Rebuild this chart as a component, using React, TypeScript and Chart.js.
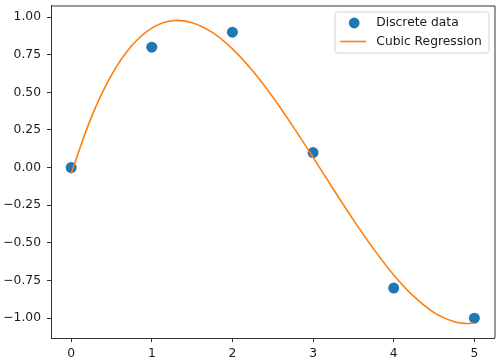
import React, { useEffect, useRef } from "react";
import { Chart, registerables } from "chart.js";

Chart.register(...registerables);

const discreteX = [0, 1, 2, 3, 4, 5];
const discreteY = [0, 0.8, 0.9, 0.1, -0.8, -1.0];

const curveX = [0, 0.25, 0.5, 0.75, 1, 1.25, 1.5, 1.75, 2, 2.25, 2.5, 2.75, 3, 3.25, 3.5, 3.75, 4, 4.25, 4.5, 4.75, 4.9, 5];
const curveY = [-0.040, 0.334, 0.614, 0.809, 0.927, 0.976, 0.963, 0.898, 0.789, 0.643, 0.469, 0.274, 0.068, -0.142, -0.347, -0.540, -0.713, -0.856, -0.963, -1.024, -1.0355, -1.032];

const xTicks = [0, 1, 2, 3, 4, 5];
const yTicks = [-1.0, -0.75, -0.5, -0.25, 0, 0.25, 0.5, 0.75, 1.0];

const legendLabels = ["Discrete data", "Cubic Regression"];
const BLUE = "#1f77b4";
const ORANGE = "#ff7f0e";
const FONT = "'DejaVu Sans', sans-serif";
const FS = 12.3;

const insideLegend = {
  id: "insideLegend",
  afterDraw(chart: any) {
    const ctx = chart.ctx;
    const area = chart.chartArea;
    const w = 154;
    const h = 41;
    const x0 = area.right - 5.5 - w;
    const y0 = area.top + 6.5;
    ctx.save();
    ctx.beginPath();
    const r = 2.5;
    ctx.moveTo(x0 + r, y0);
    ctx.lineTo(x0 + w - r, y0);
    ctx.quadraticCurveTo(x0 + w, y0, x0 + w, y0 + r);
    ctx.lineTo(x0 + w, y0 + h - r);
    ctx.quadraticCurveTo(x0 + w, y0 + h, x0 + w - r, y0 + h);
    ctx.lineTo(x0 + r, y0 + h);
    ctx.quadraticCurveTo(x0, y0 + h, x0, y0 + h - r);
    ctx.lineTo(x0, y0 + r);
    ctx.quadraticCurveTo(x0, y0, x0 + r, y0);
    ctx.closePath();
    ctx.fillStyle = "rgba(255,255,255,0.8)";
    ctx.fill();
    ctx.strokeStyle = "#d4d4d4";
    ctx.lineWidth = 1;
    ctx.stroke();

    const row1 = y0 + 11;
    const row2 = y0 + 29.5;
    ctx.fillStyle = BLUE;
    ctx.beginPath();
    ctx.arc(x0 + 19.2, row1, 5.4, 0, Math.PI * 2);
    ctx.fill();
    ctx.strokeStyle = ORANGE;
    ctx.lineWidth = 1.6;
    ctx.beginPath();
    ctx.moveTo(x0 + 5.2, row2);
    ctx.lineTo(x0 + 31.2, row2);
    ctx.stroke();

    ctx.fillStyle = "#1a1a1a";
    ctx.font = FS + "px " + FONT;
    ctx.textAlign = "left";
    ctx.textBaseline = "middle";
    ctx.fillText(legendLabels[0], x0 + 41.3, row1);
    ctx.fillText(legendLabels[1], x0 + 41.3, row2);
    ctx.restore();
  },
};

export default function App() {
  const ref = useRef<HTMLCanvasElement | null>(null);
  useEffect(() => {
    document.body.style.margin = "0";
    const canvas = ref.current!;
    const chart = new Chart(canvas, {
      type: "scatter",
      data: {
        datasets: [
          {
            type: "line",
            label: legendLabels[1],
            data: curveX.map((x, i) => ({ x, y: curveY[i] })),
            borderColor: ORANGE,
            borderWidth: 1.6,
            pointRadius: 0,
            fill: false,
            tension: 0.4,
            order: 0,
          } as any,
          {
            type: "scatter",
            label: legendLabels[0],
            data: discreteX.map((x, i) => ({ x, y: discreteY[i] })),
            backgroundColor: BLUE,
            borderColor: BLUE,
            borderWidth: 0,
            pointRadius: 5.5,
            order: 1,
          } as any,
        ],
      },
      options: {
        animation: false,
        responsive: false,
        maintainAspectRatio: false,
        layout: { padding: { top: 5, right: 4, left: 0, bottom: 0 } },
        plugins: {
          legend: { display: false },
          tooltip: { enabled: false },
        },
        scales: {
          x: {
            type: "linear",
            min: -0.25,
            max: 5.25,
            afterBuildTicks: (scale: any) => {
              scale.ticks = xTicks.map((v) => ({ value: v }));
            },
            afterFit: (scale: any) => {
              scale.height = 26;
              scale.paddingLeft = 0;
              scale.paddingRight = 0;
            },
            ticks: {
              color: "#1a1a1a",
              font: { family: FONT, size: FS },
              padding: 4.5,
              maxRotation: 0,
              callback: (v: any) => String(v),
            },
            grid: {
              drawOnChartArea: false,
              drawTicks: true,
              tickLength: 4,
              color: "#333",
              lineWidth: 1,
            },
            border: { display: true, color: "#333", width: 1 },
          },
          y: {
            type: "linear",
            min: -1.132,
            max: 1.077,
            afterBuildTicks: (scale: any) => {
              scale.ticks = yTicks.map((v) => ({ value: v }));
            },
            afterFit: (scale: any) => {
              scale.width = 51;
              scale.paddingTop = 0;
              scale.paddingBottom = 0;
            },
            ticks: {
              color: "#1a1a1a",
              font: { family: FONT, size: FS },
              padding: 6,
              callback: (v: any) => {
                const s = Math.abs(Number(v)).toFixed(2);
                return Number(v) < 0 ? "\u2212" + s : s;
              },
            },
            grid: {
              drawOnChartArea: false,
              drawTicks: true,
              tickLength: 4,
              color: "#333",
              lineWidth: 1,
            },
            border: { display: true, color: "#333", width: 1 },
          },
        },
      },
      plugins: [
        insideLegend,
        {
          id: "topRightBorder",
          afterDraw(chart: any) {
            const { ctx, chartArea: a } = chart;
            ctx.save();
            ctx.strokeStyle = "#333";
            ctx.lineWidth = 1;
            ctx.beginPath();
            ctx.moveTo(a.left, a.top + 0.5);
            ctx.lineTo(a.right + 0.5, a.top + 0.5);
            ctx.lineTo(a.right + 0.5, a.bottom);
            ctx.stroke();
            ctx.restore();
          },
        },
      ],
    });
    return () => chart.destroy();
  }, []);
  return (
    <div style={{ position: "relative", width: 500, height: 364, background: "#fff" }}>
      <canvas ref={ref} width={500} height={364} style={{ width: 500, height: 364, display: "block" }} />
    </div>
  );
}
